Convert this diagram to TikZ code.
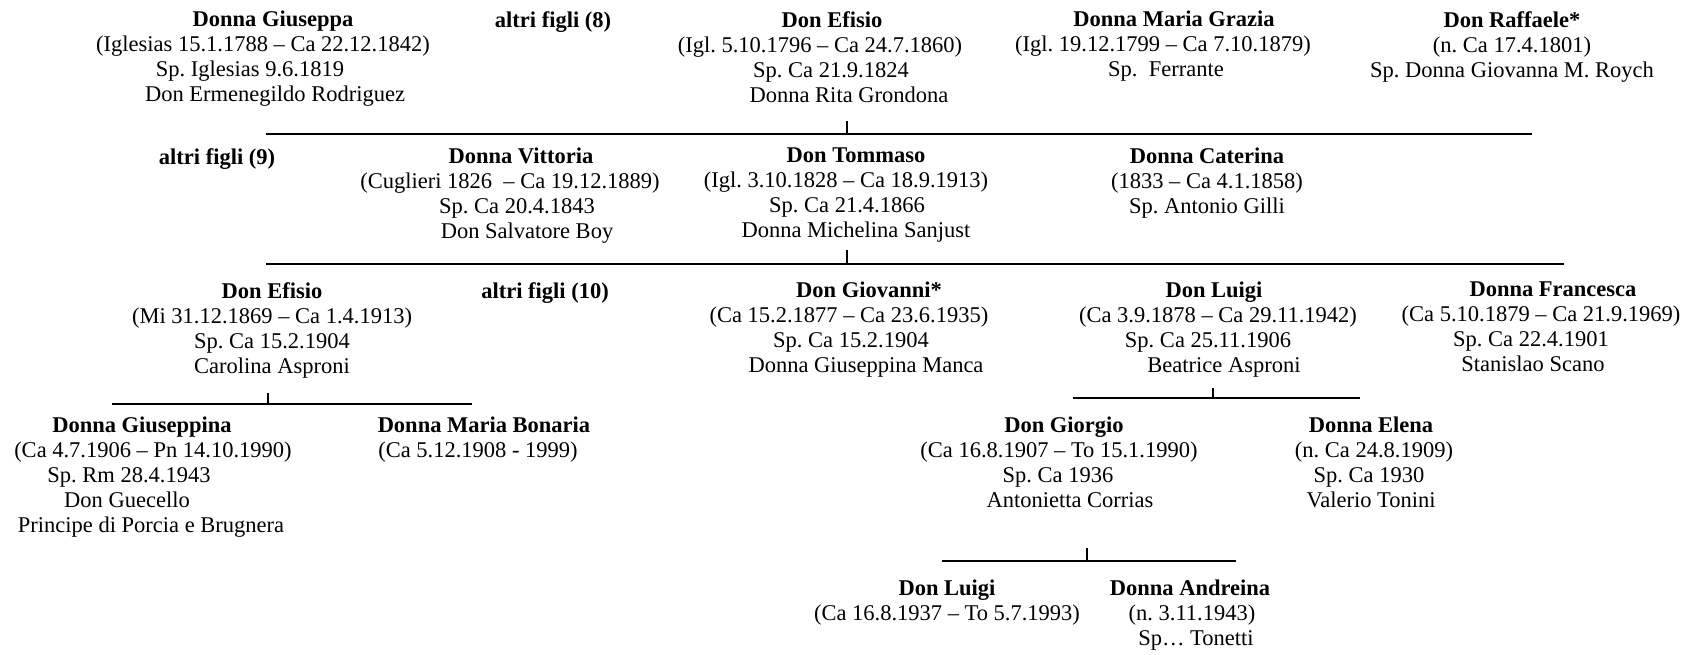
\documentclass[tikz,border=0pt]{standalone}
\usepackage{fontspec}
\setmainfont{Liberation Serif}
\frenchspacing
% shift one line of a centred node sideways by #1 pt
\newcommand{\mv}[2]{\leavevmode\hbox{\kern#1pt\relax#2\kern-#1pt\relax}}
\tikzset{
  person/.style={align=center, anchor=north, inner sep=0pt, text=black,
    font=\fontsize{22.5}{25}\selectfont},
  bar/.style={line width=2pt, draw=black},
  tick/.style={line width=1.1pt, draw=black},
}
\begin{document}
\begin{tikzpicture}[x=1pt,y=-1pt]
\useasboundingbox[fill=white] (0,0) rectangle (1684,654);
% ---------- Row 1
\node[person] (giuseppa) at (265,11) {\mv{8}{\textbf{Donna Giuseppa}}\\\mv{-2}{(Iglesias 15.1.1788 – Ca 22.12.1842)}\\\mv{-15}{Sp. Iglesias 9.6.1819}\\\mv{10}{Don Ermenegildo Rodriguez}};
\node[person] (altri8) at (553,11) {\textbf{altri figli (8)}};
\node[person] (efisio1) at (836,11) {\mv{-4}{\textbf{Don Efisio}}\\\mv{-16}{(Igl. 5.10.1796 – Ca 24.7.1860)}\\\mv{-5}{Sp. Ca 21.9.1824}\\\mv{13}{Donna Rita Grondona}};
\node[person] (mgrazia) at (1166,11) {\mv{8}{\textbf{Donna Maria Grazia}}\\\mv{-3}{(Igl. 19.12.1799 – Ca 7.10.1879)}\\Sp.~~Ferrante};
\node[person] (raffaele) at (1512,11) {\textbf{Don Raffaele*}\\(n. Ca 17.4.1801)\\Sp. Donna Giovanna M. Roych};
\coordinate (b1L) at (266,134); \coordinate (b1R) at (1532,134); \coordinate (t1) at (847,134);
\draw[bar] (b1L) -- (b1R);
\draw[tick] (t1) -- ++(0,-13);
% ---------- Row 2
\node[person] (altri9) at (217,148) {\textbf{altri figli (9)}};
\node[person] (vittoria) at (518,148) {\mv{3}{\textbf{Donna Vittoria}}\\\mv{-8}{(Cuglieri 1826~~– Ca 19.12.1889)}\\\mv{-1}{Sp. Ca 20.4.1843}\\\mv{9}{Don Salvatore Boy}};
\node[person] (tommaso) at (852,148) {\mv{4}{\textbf{Don Tommaso}}\\\mv{-6}{(Igl. 3.10.1828 – Ca 18.9.1913)}\\\mv{-5}{Sp. Ca 21.4.1866}\\\mv{4}{Donna Michelina Sanjust}};
\node[person] (caterina) at (1207,148) {\textbf{Donna Caterina}\\(1833 – Ca 4.1.1858)\\Sp. Antonio Gilli};
\coordinate (b2L) at (266,264); \coordinate (b2R) at (1564,264); \coordinate (t2) at (847,264);
\draw[bar] (b2L) -- (b2R);
\draw[tick] (t2) -- ++(0,-14);
% ---------- Row 3
\node[person] (efisio2) at (272,282) {\textbf{Don Efisio}\\(Mi 31.12.1869 – Ca 1.4.1913)\\Sp. Ca 15.2.1904\\Carolina Asproni};
\node[person] (altri10) at (545,282) {\textbf{altri figli (10)}};
\node[person] (giovanni) at (858,282) {\mv{11}{\textbf{Don Giovanni*}}\\\mv{-9}{(Ca 15.2.1877 – Ca 23.6.1935)}\\\mv{-7}{Sp. Ca 15.2.1904}\\\mv{8}{Donna Giuseppina Manca}};
\node[person] (luigi1) at (1216,282) {\mv{-2}{\textbf{Don Luigi}}\\\mv{2}{(Ca 3.9.1878 – Ca 29.11.1942)}\\\mv{-8}{Sp. Ca 25.11.1906}\\\mv{8}{Beatrice Asproni}};
\node[person] (francesca) at (1537,282) {\mv{16}{\textbf{Donna Francesca}}\\\mv{4}{(Ca 5.10.1879 – Ca 21.9.1969)}\\\mv{-6}{Sp. Ca 22.4.1901}\\\mv{-4}{Stanislao Scano}};
\coordinate (b3L) at (112,404); \coordinate (b3R) at (472,404); \coordinate (t3) at (268,404);
\draw[bar] (b3L) -- (b3R);
\draw[tick] (t3) -- ++(0,-11);
\coordinate (b4L) at (1073,398); \coordinate (b4R) at (1360,398); \coordinate (t4) at (1213,398);
\draw[bar] (b4L) -- (b4R);
\draw[tick] (t4) -- ++(0,-10);
% ---------- Row 4
\node[person] (giuseppina) at (142,417) {\textbf{Donna Giuseppina}\\\mv{11}{(Ca 4.7.1906 – Pn 14.10.1990)}\\\mv{-13}{Sp. Rm 28.4.1943}\\\mv{-15}{Don Guecello}\\\mv{9}{Principe di Porcia e Brugnera}};
\node[person] (bonaria) at (482,417) {\mv{2}{\textbf{Donna Maria Bonaria}}\\\mv{-4}{(Ca 5.12.1908 - 1999)}};
\node[person] (giorgio) at (1062,417) {\mv{2}{\textbf{Don Giorgio}}\\\mv{-3}{(Ca 16.8.1907 – To 15.1.1990)}\\\mv{-4}{Sp. Ca 1936}\\\mv{8}{Antonietta Corrias}};
\node[person] (elena) at (1371,417) {\textbf{Donna Elena}\\\mv{3}{(n. Ca 24.8.1909)}\\\mv{-2}{Sp. Ca 1930}\\Valerio Tonini};
\coordinate (b5L) at (942,561); \coordinate (b5R) at (1236,561); \coordinate (t5) at (1087,561);
\draw[bar] (b5L) -- (b5R);
\draw[tick] (t5) -- ++(0,-13);
% ---------- Row 5
\node[person] (luigi2) at (947,580) {\textbf{Don Luigi}\\(Ca 16.8.1937 – To 5.7.1993)};
\node[person] (andreina) at (1190,580) {\textbf{Donna Andreina}\\\mv{2}{(n. 3.11.1943)}\\\mv{6}{Sp… Tonetti}};
\end{tikzpicture}
\end{document}
